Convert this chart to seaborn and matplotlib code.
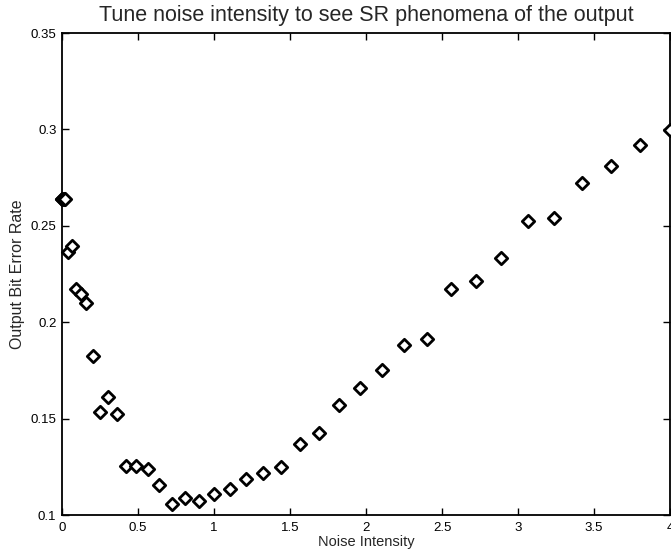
import numpy as np
import pandas as pd
import matplotlib
matplotlib.use("Agg")
import matplotlib.pyplot as plt
from matplotlib.ticker import FuncFormatter
import seaborn as sns

noise_intensity = [0.0, 0.0025, 0.01, 0.0225, 0.04, 0.0625, 0.09, 0.1225, 0.16,
                   0.2025, 0.25, 0.3025, 0.36, 0.4225, 0.49, 0.5625, 0.64,
                   0.7225, 0.81, 0.9025, 1.0, 1.1025, 1.21, 1.3225, 1.44,
                   1.5625, 1.69, 1.8225, 1.96, 2.1025, 2.25, 2.4025, 2.56,
                   2.7225, 2.89, 3.0625, 3.24, 3.4225, 3.61, 3.8025, 4.0]
bit_error_rate = [0.264, 0.264, 0.264, 0.264, 0.2366, 0.2395, 0.2171, 0.2146,
                  0.2098, 0.1825, 0.1536, 0.1614, 0.1525, 0.1254, 0.1254,
                  0.1237, 0.1156, 0.1055, 0.1087, 0.1074, 0.1109, 0.1137,
                  0.1185, 0.1220, 0.1249, 0.1368, 0.1427, 0.1571, 0.1660,
                  0.1754, 0.1882, 0.1911, 0.2172, 0.2214, 0.2331, 0.2525,
                  0.2542, 0.2720, 0.2812, 0.2919, 0.2996]

x_ticks = [0, 0.5, 1, 1.5, 2, 2.5, 3, 3.5, 4]
y_ticks = [0.1, 0.15, 0.2, 0.25, 0.3, 0.35]

sns.set_style("ticks")
plt.rcParams["font.family"] = ["Liberation Sans", "DejaVu Sans"]

df = pd.DataFrame({"noise": noise_intensity, "ber": bit_error_rate})

fig = plt.figure(figsize=(6.71, 5.54), dpi=100)
ax = fig.add_axes([62 / 671, 39 / 554, 608 / 671, 482 / 554])

sns.scatterplot(data=df, x="noise", y="ber", ax=ax, marker="D", s=40,
                facecolor="white", edgecolor="black", linewidth=2.0,
                clip_on=False, zorder=3)

ax.set_xlim(0, 4)
ax.set_ylim(0.1, 0.35)
ax.set_xticks(x_ticks)
ax.set_yticks(y_ticks)
fmt = FuncFormatter(lambda v, _: f"{v:g}")
ax.xaxis.set_major_formatter(fmt)
ax.yaxis.set_major_formatter(fmt)

ax.tick_params(direction="in", length=5, width=1, labelsize=9.5,
               top=True, right=True, colors="black")
ax.tick_params(axis="x", pad=5)
ax.tick_params(axis="y", pad=4)
for side in ["top", "right", "bottom", "left"]:
    ax.spines[side].set_visible(True)
    ax.spines[side].set_linewidth(1.3)
    ax.spines[side].set_color("black")

ax.set_xlabel("Noise Intensity", fontsize=10.5, labelpad=1)
ax.set_ylabel("Output Bit Error Rate", fontsize=11.5, labelpad=4)
ax.set_title("Tune noise intensity to see SR phenomena of the output",
             fontsize=15.5, pad=9)

fig.savefig("out.png", dpi=100)
plt.close(fig)
